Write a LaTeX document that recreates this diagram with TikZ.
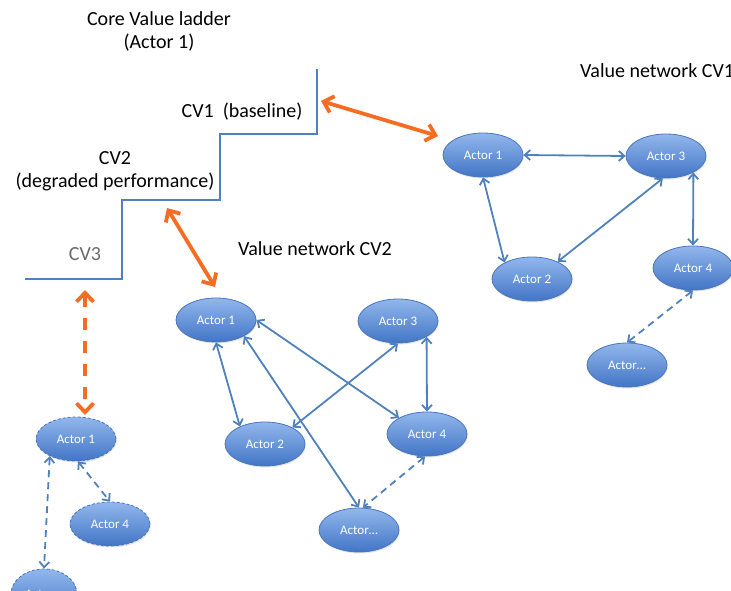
\documentclass[tikz,border=0pt]{standalone}
\usepackage{fontspec}
\setmainfont{Carlito}
\usetikzlibrary{shapes.geometric,arrows.meta,shadows}
\definecolor{actortop}{RGB}{146,183,236}
\definecolor{actorbot}{RGB}{66,117,198}
\definecolor{actorborder}{RGB}{74,118,186}
\definecolor{linkblue}{RGB}{79,129,189}
\definecolor{orangec}{RGB}{244,109,34}
\definecolor{cvgray}{RGB}{105,105,105}
\tikzset{
  actor/.style={ellipse, minimum width=80pt, minimum height=44pt, inner sep=0pt,
    draw=actorborder, line width=0.8pt, top color=actortop, bottom color=actorbot,
    text=white, font=\fontsize{13}{15}\selectfont,
    drop shadow={opacity=0.2, shadow xshift=0.8pt, shadow yshift=-1.5pt}},
  dactor/.style={actor, dashed, dash pattern=on 3pt off 2pt},
  link/.style={draw=linkblue, line width=1.8pt,
    {Straight Barb[length=5.5pt,width=10pt]}-{Straight Barb[length=5.5pt,width=10pt]}},
  dlink/.style={link, dash pattern=on 7pt off 5pt},
  orangelink/.style={draw=orangec, line width=3.8pt,
    {Straight Barb[length=9pt,width=17pt]}-{Straight Barb[length=9pt,width=17pt]}},
  title/.style={font=\fontsize{20}{22}\selectfont, text=black, inner sep=0pt},
  ladder/.style={draw=linkblue, line width=2.2pt}
}
\begin{document}
\begin{tikzpicture}[x=1pt,y=-1pt]
\useasboundingbox (0,0) rectangle (731,591);
\clip (0,0) rectangle (731,591);

% titles
\node[title] (t1) at (159,19) {Core Value ladder};
\node[title] (t2) at (159,43) {(Actor 1)};
\node[title] (cv1) at (242,112) {CV1\ \ (baseline)};
\node[title] (cv2a) at (115,158) {CV2};
\node[title] (cv2b) at (115,182) {(degraded performance)};
\node[title, text=cvgray] (cv3) at (85,254) {CV3};
\node[title, anchor=west] (vn1) at (580,71) {Value network CV1};
\node[title] (vn2) at (315,249) {Value network CV2};

% ladder
\coordinate (l0) at (25,279);
\coordinate (l1) at (122,279);
\coordinate (l2) at (122,200);
\coordinate (l3) at (220,200);
\coordinate (l4) at (220,134);
\coordinate (l5) at (317,134);
\coordinate (l6) at (317,69);
\draw[ladder] (l0) -- (l1) -- (l2) -- (l3) -- (l4) -- (l5) -- (l6);

% CV1 network
\node[actor] (a1) at (483,155) {Actor 1};
\node[actor] (a3) at (666,156) {Actor 3};
\node[actor] (a2) at (532,279) {Actor 2};
\node[actor] (a4) at (693,268) {Actor 4};
\node[actor] (ax) at (627,365) {Actor…};
\draw[link] (a1.east) -- (a3.west);
\draw[link] (a1.south) -- (a2.149);
\draw[link] (a3.-98) -- (a2.34);
\draw[link] (a3.-31) -- (a4.north);
\draw[dlink] (a4.south) -- (ax.north);

% CV2 network
\node[actor] (b1) at (216,320) {Actor 1};
\node[actor] (b3) at (398,321) {Actor 3};
\node[actor] (b2) at (265,444) {Actor 2};
\node[actor] (b4) at (427,434) {Actor 4};
\node[actor] (bx) at (359,530) {Actor…};
\draw[link] (b1.south) -- (b2.145);
\draw[link] (b1.east) -- (b4.150);
\draw[link] (b1.-30) -- (bx.north);
\draw[link] (b2.31) -- (b3.south);
\draw[link] (b3.-29) -- (b4.north);
\draw[dlink] (b4.-95) -- (bx.80);

% CV3 network
\node[dactor] (c1) at (76,439) {Actor 1};
\node[dactor] (c4) at (110,524) {Actor 4};
\node[dactor, minimum width=66pt, minimum height=50pt] (cx) at (44,594) {Actor…};
\draw[dlink] (c1.-85) -- (c4.north);
\draw[dlink] (c1.-147) -- (cx.north);

% orange arrows
\coordinate (o1s) at (321,101);
\coordinate (o1e) at (438,136);
\coordinate (o2s) at (167,208);
\coordinate (o2e) at (215,287);
\coordinate (o3s) at (85,290);
\coordinate (o3e) at (85,415);
\draw[orangelink] (o1s) -- (o1e);
\draw[orangelink] (o2s) -- (o2e);
\draw[orangelink, dash pattern=on 12pt off 11pt] (o3s) -- (o3e);
\end{tikzpicture}
\end{document}
